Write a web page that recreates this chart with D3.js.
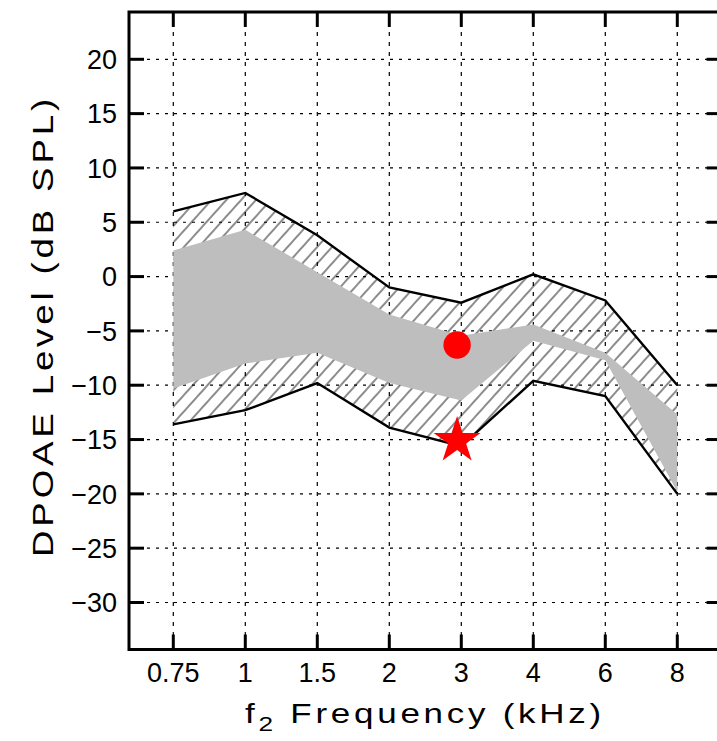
<!DOCTYPE html>
<html>
<head>
<meta charset="utf-8">
<script src="https://cdn.jsdelivr.net/npm/d3@7"></script>
<style>
  html, body { margin: 0; padding: 0; background: #fff; }
  svg { display: block; }
  text { font-family: "Liberation Sans", Arial, sans-serif; fill: #000; }
</style>
</head>
<body>
<svg id="chart" width="717" height="741"></svg>
<script>
// DPOAE normative range (f2 frequency, dB SPL)
const freqs = [0.75, 1, 1.5, 2, 3, 4, 6, 8];
const freqLabels = ["0.75", "1", "1.5", "2", "3", "4", "6", "8"];

// outer (hatched) band limits
const outerUpper = [6.0, 7.7, 3.8, -1.0, -2.4, 0.2, -2.2, -10.0];
const outerLower = [-13.6, -12.3, -9.8, -13.9, -15.6, -9.6, -11.0, -20.0];

// inner (gray) band limits
const grayUpper = [2.4, 4.3, 0.4, -3.5, -5.45, -4.4, -7.0, -12.7];
const grayLower = [-10.3, -8.0, -7.0, -9.8, -11.4, -5.9, -7.7, -19.8];

// individual measurements
const circlePoint = { f: 2.93, level: -6.3 };
const starPoint = { f: 2.93, level: -15.1 };

const yTicks = [20, 15, 10, 5, 0, -5, -10, -15, -20, -25, -30];

const svg = d3.select("#chart");

// plot frame
const frameL = 129, frameR = 721.6, frameT = 12, frameB = 649.5;
const firstX = 173.3, stepX = 72;

// piecewise log scale: categories equally spaced, in-between values on a log scale
const x = d3.scaleLog()
  .domain(freqs)
  .range(freqs.map((d, i) => firstX + i * stepX));

const y = d3.scaleLinear()
  .domain([-30, 20])
  .range([602.5, 59.3]);

const defs = svg.append("defs");
const hatch = defs.append("pattern")
  .attr("id", "hatch")
  .attr("patternUnits", "userSpaceOnUse")
  .attr("width", 11)
  .attr("height", 10)
  .attr("patternTransform", "rotate(42)");
hatch.append("line")
  .attr("x1", 5).attr("y1", -1)
  .attr("x2", 5).attr("y2", 11)
  .attr("stroke", "#000")
  .attr("stroke-width", 0.9);

const clip = defs.append("clipPath").attr("id", "plotclip");
clip.append("rect")
  .attr("x", frameL).attr("y", frameT)
  .attr("width", frameR - frameL).attr("height", frameB - frameT);

// dotted grid
const grid = svg.append("g").attr("stroke", "#000").attr("stroke-width", 1.2);
grid.selectAll("line.h").data(yTicks).join("line")
  .attr("class", "h")
  .attr("x1", frameL).attr("x2", frameR)
  .attr("y1", d => y(d)).attr("y2", d => y(d))
  .attr("stroke-dasharray", "3,6");
grid.selectAll("line.v").data(freqs).join("line")
  .attr("class", "v")
  .attr("x1", d => x(d)).attr("x2", d => x(d))
  .attr("y1", frameT).attr("y2", frameB)
  .attr("stroke-dasharray", "4,6");

const plot = svg.append("g").attr("clip-path", "url(#plotclip)");

// hatched outer band
const outerArea = d3.area()
  .x((d, i) => x(freqs[i]))
  .y0((d, i) => y(outerLower[i]))
  .y1((d, i) => y(outerUpper[i]));
plot.append("path")
  .datum(freqs)
  .attr("d", outerArea)
  .attr("fill", "url(#hatch)");

// gray inner band
const grayArea = d3.area()
  .x((d, i) => x(freqs[i]))
  .y0((d, i) => y(grayLower[i]))
  .y1((d, i) => y(grayUpper[i]));
plot.append("path")
  .datum(freqs)
  .attr("d", grayArea)
  .attr("fill", "#bebebe");

// outer band boundaries
const line = d3.line().x(d => x(d[0])).y(d => y(d[1]));
[outerUpper, outerLower].forEach(vals => {
  plot.append("path")
    .datum(freqs.map((f, i) => [f, vals[i]]))
    .attr("d", line)
    .attr("fill", "none")
    .attr("stroke", "#000")
    .attr("stroke-width", 2.4)
    .attr("stroke-linejoin", "miter");
});

// frame and inward ticks
const axes = svg.append("g").attr("stroke", "#000").attr("stroke-width", 3);
axes.append("rect")
  .attr("x", frameL).attr("y", frameT)
  .attr("width", frameR - frameL).attr("height", frameB - frameT)
  .attr("fill", "none");
const tickLen = 15;
yTicks.forEach(v => {
  axes.append("line").attr("x1", frameL).attr("x2", frameL + tickLen)
    .attr("y1", y(v)).attr("y2", y(v));
  axes.append("line").attr("x1", frameR).attr("x2", frameR - tickLen)
    .attr("y1", y(v)).attr("y2", y(v));
});
freqs.forEach(f => {
  axes.append("line").attr("x1", x(f)).attr("x2", x(f))
    .attr("y1", frameT).attr("y2", frameT + tickLen);
  axes.append("line").attr("x1", x(f)).attr("x2", x(f))
    .attr("y1", frameB).attr("y2", frameB - tickLen);
});

// tick labels
svg.append("g").selectAll("text").data(yTicks).join("text")
  .attr("x", frameL - 12)
  .attr("y", d => y(d))
  .attr("dy", "0.36em")
  .attr("text-anchor", "end")
  .attr("font-size", 27)
  .text(d => d < 0 ? "\u2212" + Math.abs(d) : String(d));

svg.append("g").selectAll("text").data(freqs).join("text")
  .attr("x", d => x(d))
  .attr("y", 682)
  .attr("text-anchor", "middle")
  .attr("font-size", 27)
  .text((d, i) => freqLabels[i]);

// axis titles: wide lettering, slightly stretched glyphs plus tracking
const xt = svg.append("text")
  .attr("x", 425).attr("y", 723)
  .attr("text-anchor", "middle")
  .attr("font-size", 28)
  .attr("letter-spacing", 3)
  .attr("textLength", 360)
  .attr("lengthAdjust", "spacingAndGlyphs");
xt.append("tspan").text("f");
xt.append("tspan").attr("font-size", 21).attr("dy", 8).text("2");
xt.append("tspan").attr("dy", -8).text(" Frequency (kHz)");

svg.append("text")
  .attr("transform", "translate(53,326) rotate(-90)")
  .attr("text-anchor", "middle")
  .attr("font-size", 29)
  .attr("letter-spacing", 3)
  .attr("textLength", 462)
  .attr("lengthAdjust", "spacingAndGlyphs")
  .text("DPOAE Level (dB SPL)");

// measurement markers
svg.append("circle")
  .attr("cx", x(circlePoint.f))
  .attr("cy", y(circlePoint.level))
  .attr("r", 13.7)
  .attr("fill", "#ff0000");

const starR = 24.7, starr = starR * 0.382;
const starPts = d3.range(10).map(k => {
  const a = -Math.PI / 2 + k * Math.PI / 5;
  const r = k % 2 === 0 ? starR : starr;
  return [r * Math.cos(a), r * Math.sin(a)];
});
svg.append("path")
  .attr("transform", `translate(${x(starPoint.f)},${y(starPoint.level)})`)
  .attr("d", d3.line()(starPts) + "Z")
  .attr("fill", "#ff0000");
</script>
</body>
</html>
